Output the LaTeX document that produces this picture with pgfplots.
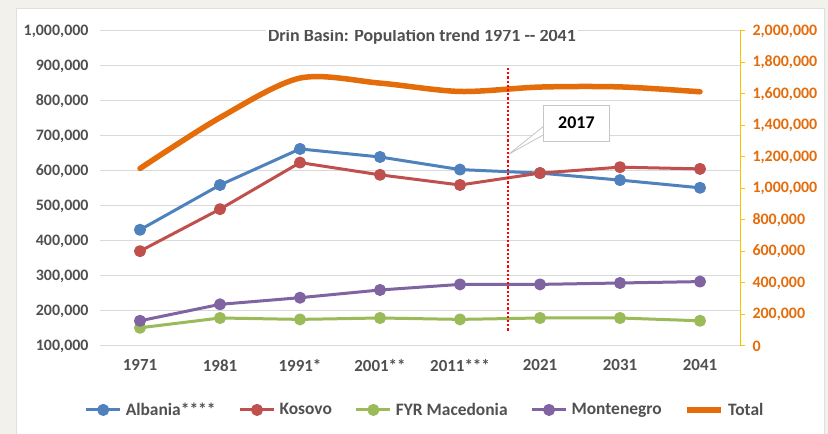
\documentclass[border=0pt]{standalone}
\usepackage{fontspec}
\setmainfont{Carlito}
\usepackage{pgfplots}
\pgfplotsset{compat=1.18}
\definecolor{cBlue}{HTML}{4F81BD}
\definecolor{cRed}{HTML}{C0504D}
\definecolor{cGreen}{HTML}{9BBB59}
\definecolor{cPurple}{HTML}{8064A2}
\definecolor{cOrange}{HTML}{E46C0A}
\definecolor{cGold}{HTML}{FFC000}
\definecolor{cGrid}{HTML}{D9D9D9}
\definecolor{cText}{HTML}{505050}
\definecolor{cBg}{HTML}{F2F1EC}
\begin{document}
\begin{tikzpicture}[x=1bp,y=1bp]
\path[use as bounding box] (0,0) rectangle (828,434);
\fill[cBg] (0,0) rectangle (828,434);
\fill[white] (16,0) rectangle (824,426);
\draw[gray!25] (16,0) -- (16,426) -- (824,426) -- (824,0);
\begin{axis}[
  at={(100bp,88bp)}, anchor=south west,
  scale only axis, width=640bp, height=315bp,
  xmin=-0.5, xmax=7.5, ymin=100000, ymax=1000000,
  xtick={0,...,7},
  xticklabels={1971,1981,1991*,2001**,2011***,2021,2031,2041},
  ytick={100000,200000,...,1000000},
  scaled y ticks=false,
  /pgf/number format/.cd, fixed, 1000 sep={,}, assume math mode=true, /pgfplots/.cd,
  axis x line*=bottom, axis y line*=left,
  y axis line style={draw=none},
  x axis line style={draw=cGrid, line width=1bp},
  major tick length=0pt,
  ymajorgrids, grid style={cGrid, line width=1bp},
  yticklabel style={font=\bfseries\fontsize{16}{18}\selectfont, text=cText, xshift=-8bp},
  xticklabel style={font=\bfseries\fontsize{17}{19}\selectfont, text=cText, yshift=-10bp},
  legend style={at={(0.508,-0.203)}, anchor=center, draw=none, fill=none,
    legend columns=5, font=\bfseries\fontsize{17.5}{19}\selectfont, text=cText,
    /tikz/every even column/.append style={column sep=21bp},
    /tikz/every odd column/.append style={column sep=2bp}},
  legend image code/.code={\draw[#1, mark repeat=2, mark phase=2] plot coordinates {(0bp,0bp)(17bp,0bp)(34bp,0bp)};},
  every axis plot/.append style={line width=3bp, line join=round, mark=*, mark size=4.5bp, mark options={solid}},
]
\addplot[cBlue, mark options={fill=cBlue}] coordinates {(0,432000)(1,560000)(2,663000)(3,640000)(4,604000)(5,594000)(6,574000)(7,552000)};
\addlegendentry{Albania****}
\addplot[cRed, mark options={fill=cRed}] coordinates {(0,371000)(1,491000)(2,624000)(3,589000)(4,560000)(5,594000)(6,611000)(7,606000)};
\addlegendentry{Kosovo}
\addplot[cGreen, mark options={fill=cGreen}] coordinates {(0,152000)(1,180000)(2,176000)(3,180000)(4,176000)(5,180000)(6,180000)(7,172000)};
\addlegendentry{FYR Macedonia}
\addplot[cPurple, mark options={fill=cPurple}] coordinates {(0,172000)(1,219000)(2,238000)(3,260000)(4,276000)(5,276000)(6,280000)(7,284000)};
\addlegendentry{Montenegro}
\addlegendimage{cOrange, line width=5.5bp, no markers}
\addlegendentry{Total}
\node[fill=white, inner sep=2bp, text=cText, font=\bfseries\fontsize{18}{20}\selectfont] at (rel axis cs:0.503,0.982) {Drin Basin: Population trend 1971 -{}- 2041};
\end{axis}
\begin{axis}[
  at={(100bp,88bp)}, anchor=south west,
  scale only axis, width=640bp, height=315bp,
  xmin=-0.5, xmax=7.5, ymin=0, ymax=2000000,
  axis x line=none, axis y line*=right,
  ytick={0,200000,...,2000000},
  scaled y ticks=false,
  /pgf/number format/.cd, fixed, 1000 sep={,}, assume math mode=true, /pgfplots/.cd,
  y axis line style={draw=cGold, line width=1bp},
  ytick style={draw=cGold, line width=1bp},
  tick align=outside, major tick length=5bp,
  yticklabel style={font=\bfseries\fontsize{16}{18}\selectfont, text=cOrange, xshift=4bp},
]
\addplot[cOrange, line width=5.5bp, smooth, line cap=round, no markers] coordinates {(0,1127000)(1,1450000)(2,1701000)(3,1669000)(4,1616000)(5,1644000)(6,1645000)(7,1614000)};
\end{axis}
\begin{axis}[
  at={(100bp,88bp)}, anchor=south west,
  scale only axis, width=640bp, height=315bp,
  xmin=-0.5, xmax=7.5, ymin=100000, ymax=1000000,
  hide axis, clip=false,
]
\addplot[red, line width=2.5bp, dash pattern=on 2.2bp off 2bp, no markers] coordinates {(4.6,894000)(4.6,138000)};
\draw[gray!45, line width=0.8bp, fill=white] (axis cs:5.04,726600) -- (axis cs:4.61,648000) -- (axis cs:5.04,702900);
\draw[gray!45, line width=0.8bp, fill=white] (axis cs:5.04,685700) rectangle (axis cs:5.87,788600);
\node[font=\bfseries\fontsize{18}{20}\selectfont, text=black] at (axis cs:5.455,737000) {2017};
\end{axis}
\end{tikzpicture}
\end{document}
